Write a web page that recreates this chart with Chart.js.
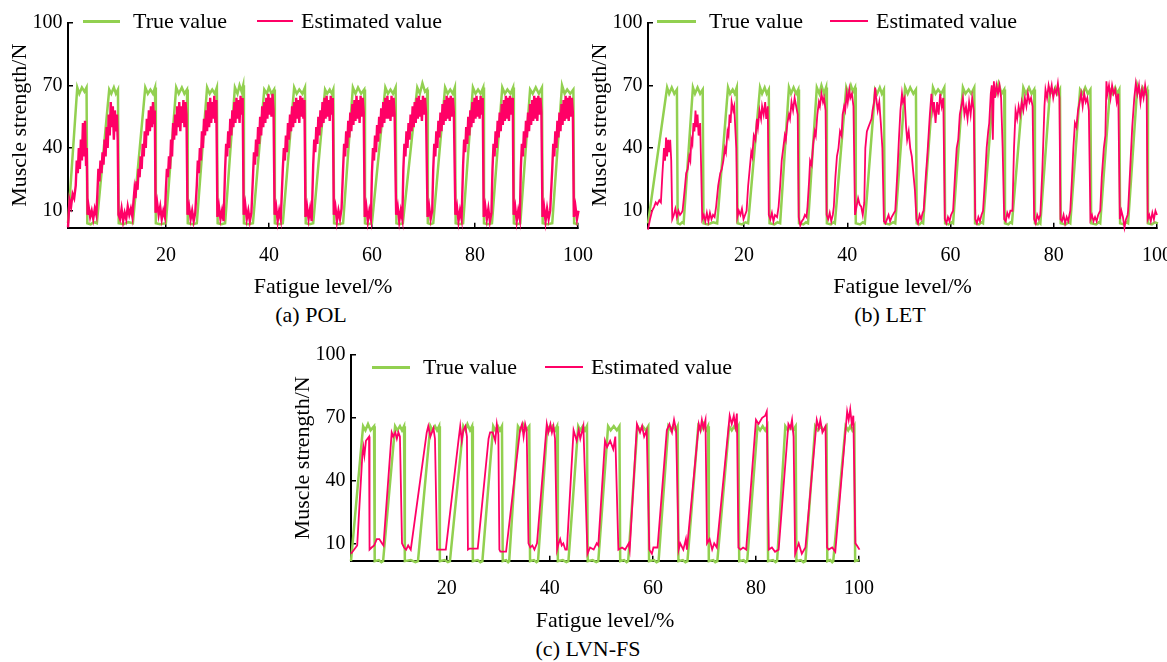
<!DOCTYPE html>
<html>
<head>
<meta charset="utf-8">
<script src="https://cdn.jsdelivr.net/npm/chart.js@4.4.1/dist/chart.umd.min.js"></script>
<style>
  html, body { margin: 0; padding: 0; background: #fff; overflow: hidden; }
  body { width: 1167px; height: 662px; position: relative; font-family: "Liberation Serif", "Tinos", "Nimbus Roman", "FreeSerif", "DejaVu Serif", serif; color: #000; }
  canvas { position: absolute; }
  .txt { position: absolute; font-size: 22px; line-height: 22px; white-space: nowrap; }
  .cap { position: absolute; font-size: 22px; line-height: 22px; white-space: nowrap; transform: translateX(-50%); }
  .ln { position: absolute; }
  #probe { position: absolute; left: 0; top: 640px; font-size: 10px; color: #fff; }
</style>
</head>
<body>
<canvas id="c_pol" width="600" height="300" style="left:0px;top:0px"></canvas>
<canvas id="c_let" width="600" height="300" style="left:580px;top:0px"></canvas>
<canvas id="c_lvn" width="600" height="299" style="left:283px;top:335px"></canvas>

<!-- legends -->
<div class="ln" style="left:83px;top:20px;width:37px;height:2.5px;background:#92d050"></div>
<div class="txt" style="left:133px;top:10px">True value</div>
<div class="ln" style="left:257px;top:20px;width:36px;height:2px;background:#ff0066"></div>
<div class="txt" style="left:301px;top:10px">Estimated value</div>

<div class="ln" style="left:657px;top:20px;width:39px;height:2.5px;background:#92d050"></div>
<div class="txt" style="left:709px;top:10px">True value</div>
<div class="ln" style="left:830px;top:20px;width:38px;height:2px;background:#ff0066"></div>
<div class="txt" style="left:876px;top:10px">Estimated value</div>

<div class="ln" style="left:372px;top:366px;width:38px;height:2.5px;background:#92d050"></div>
<div class="txt" style="left:423px;top:356px">True value</div>
<div class="ln" style="left:545px;top:366px;width:38px;height:2px;background:#ff0066"></div>
<div class="txt" style="left:591px;top:356px">Estimated value</div>

<!-- captions -->
<div class="cap" style="left:311px;top:304px">(a) POL</div>
<div class="cap" style="left:890px;top:304px">(b) LET</div>
<div class="cap" style="left:588px;top:638px">(c) LVN-FS</div>

<script>
const green = '#92d050';
const red = '#ff0066';

const xTicks = [20, 40, 60, 80, 100];
const yTicks = [10, 40, 70, 100];

// (a) POL
const polTrue = [
  [1.0,4],[2.8,69],[3.2,66],[3.7,69],[4.2,67],[4.6,69],[4.75,4],[5.4,3.5],[6.0,4.5],
  [6.6,4],[9.0,68],[9.4,66],[9.9,69],[10.3,66],[10.7,68],[10.85,4],[11.8,3.5],[12.7,4.5],
  [13.6,4],[16.0,69],[16.5,66],[17.0,68],[17.5,66],[17.9,69],[18.05,4],[18.9,3.5],
  [20.0,4],[22.0,69],[22.5,66],[23.1,69],[23.6,66],[24.1,68],[24.25,4],[25.2,3.5],
  [26.0,4],[28.0,69],[28.5,66],[29.0,68],[29.5,66],[29.9,69],[30.05,4],[30.8,3.5],
  [31.5,4],[33.4,69],[33.9,66],[34.3,70],[34.7,67],[35.0,70],[35.15,4],[36.0,3.5],
  [36.9,4],[39.1,68],[39.6,66],[40.0,69],[40.5,66],[41.0,68],[41.15,4],[42.0,3.5],
  [42.7,4],[44.9,69],[45.4,66],[45.9,68],[46.5,66],[47.0,69],[47.15,4],[47.9,3.5],
  [48.6,4],[50.9,68],[51.3,66],[51.8,68],[52.2,66],[52.5,68],[52.65,4],[53.5,3.5],
  [54.4,4],[56.3,69],[56.8,66],[57.3,69],[57.9,66],[58.5,68],[58.65,4],[59.3,3.5],
  [60.0,4],[62.6,69],[63.1,66],[63.6,68],[64.1,66],[64.6,69],[64.75,4],[65.4,3.5],
  [66.0,4],[68.8,69],[69.3,66],[69.8,71],[70.3,67],[70.7,68],[70.85,4],[71.4,3.5],
  [71.9,4],[74.2,69],[74.7,66],[75.2,68],[75.7,66],[76.1,69],[76.25,4],[77.0,3.5],
  [77.7,4],[79.6,69],[80.1,66],[80.6,68],[81.1,66],[81.6,69],[81.75,4],[82.5,3.5],
  [83.3,4],[85.3,69],[85.8,66],[86.3,68],[86.9,66],[87.4,69],[87.55,4],[88.2,3.5],
  [88.8,4],[90.7,68],[91.2,66],[91.8,69],[92.4,66],[93.0,69],[93.15,4],[94.1,3.5],
  [95.0,4],[96.9,70],[97.4,66],[97.9,68],[98.5,66],[99.1,68],[99.25,4],[100.0,3.5],[100.6,4]
];
const polEst = [
  [1.0,2],[1.3,15],[1.6,12],[1.9,18],[2.2,16],[2.5,22],[2.7,34],[2.9,28],[3.1,40],[3.3,30],[3.5,44],[3.7,34],[3.9,52],[4.1,36],[4.3,53],[4.5,32],[4.65,40],[4.8,8],
  [5.0,12],[5.3,7],[5.6,10],[5.9,6],[6.2,11],[6.5,8],
  [6.7,18],[6.9,30],[7.1,24],[7.3,34],[7.5,28],[7.7,38],[7.9,32],[8.1,44],[8.3,36],[8.5,50],[8.7,40],[8.9,56],[9.1,46],[9.3,62],[9.5,50],[9.7,60],[9.9,44],[10.1,58],[10.3,48],[10.5,56],[10.65,44],[10.8,8],
  [11.1,6],[11.4,11],[11.7,5],[12.0,9],[12.3,6],[12.6,12],[12.9,8],[13.2,11],[13.5,7],
  [13.7,14],[13.9,20],[14.1,16],[14.3,24],[14.5,20],[14.7,30],[14.9,26],[15.1,36],[15.3,30],[15.5,42],[15.7,36],[15.9,48],[16.1,40],[16.3,54],[16.5,46],[16.7,58],[16.9,48],[17.1,60],[17.3,50],[17.5,62],[17.7,52],[17.85,58],[18.0,9],
  [18.3,14],[18.6,8],[18.9,12],[19.2,6],[19.5,10],[19.8,7],
  [20.0,20],[20.2,30],[20.4,26],[20.6,36],[20.8,30],[21.0,44],[21.2,36],[21.4,52],[21.6,44],[21.8,56],[22.0,46],[22.2,60],[22.4,50],[22.6,62],[22.8,48],[23.0,60],[23.2,52],[23.4,63],[23.6,50],[23.8,62],[24.0,56],[24.2,8],
  [24.5,12],[24.8,6],[25.1,10],[25.4,5],[25.7,9],
  [26.0,22],[26.2,34],[26.4,28],[26.6,40],[26.8,34],[27.0,48],[27.2,40],[27.4,54],[27.6,46],[27.8,58],[28.0,48],[28.2,62],[28.4,50],[28.6,64],[28.8,52],[29.0,62],[29.2,54],[29.4,65],[29.6,52],[29.8,63],[30.0,7],
  [30.3,12],[30.6,6],[30.9,10],[31.2,5],
  [31.5,30],[31.7,42],[31.9,36],[32.1,48],[32.3,40],[32.5,54],[32.7,46],[32.9,58],[33.1,50],[33.3,62],[33.5,52],[33.7,64],[33.9,54],[34.1,63],[34.3,52],[34.5,65],[34.7,56],[34.9,64],[35.1,8],
  [35.4,13],[35.7,6],[36.0,10],[36.3,5],[36.6,9],
  [36.9,26],[37.1,38],[37.3,32],[37.5,44],[37.7,36],[37.9,50],[38.1,42],[38.3,55],[38.5,46],[38.7,60],[38.9,50],[39.1,62],[39.3,52],[39.5,64],[39.7,54],[39.9,66],[40.1,56],[40.3,64],[40.5,55],[40.7,66],[40.9,58],[41.1,8],
  [41.4,12],[41.7,5],[42.0,10],[42.3,6],
  [42.7,30],[42.9,40],[43.1,34],[43.3,46],[43.5,38],[43.7,52],[43.9,44],[44.1,56],[44.3,48],[44.5,60],[44.7,50],[44.9,62],[45.1,52],[45.3,64],[45.5,54],[45.7,63],[45.9,52],[46.1,65],[46.3,55],[46.5,64],[46.7,54],[46.9,63],[47.1,7],
  [47.4,12],[47.7,6],[48.0,11],[48.3,5],
  [48.6,32],[48.8,44],[49.0,38],[49.2,50],[49.4,42],[49.6,55],[49.8,46],[50.0,58],[50.2,50],[50.4,62],[50.6,52],[50.8,64],[51.0,54],[51.2,65],[51.4,55],[51.6,63],[51.8,53],[52.0,65],[52.2,56],[52.4,64],[52.6,8],
  [52.9,12],[53.2,5],[53.5,10],[53.8,6],[54.1,11],
  [54.4,30],[54.6,42],[54.8,36],[55.0,48],[55.2,40],[55.4,53],[55.6,45],[55.8,57],[56.0,48],[56.2,61],[56.4,51],[56.6,63],[56.8,53],[57.0,65],[57.2,54],[57.4,63],[57.6,52],[57.8,65],[58.0,55],[58.2,64],[58.4,57],[58.6,7],
  [58.9,12],[59.2,5],[59.5,10],[59.8,6],
  [60.0,28],[60.2,40],[60.4,34],[60.6,46],[60.8,38],[61.0,51],[61.2,43],[61.4,55],[61.6,47],[61.8,59],[62.0,50],[62.2,62],[62.4,52],[62.6,64],[62.8,54],[63.0,65],[63.2,54],[63.4,63],[63.6,53],[63.8,65],[64.0,55],[64.2,64],[64.4,56],[64.7,8],
  [65.0,12],[65.3,5],[65.6,10],[65.9,6],
  [66.1,30],[66.3,42],[66.5,36],[66.7,48],[66.9,40],[67.1,52],[67.3,44],[67.5,56],[67.7,48],[67.9,60],[68.1,50],[68.3,62],[68.5,52],[68.7,64],[68.9,54],[69.1,65],[69.3,55],[69.5,63],[69.7,53],[69.9,65],[70.1,56],[70.3,64],[70.5,57],[70.8,7],
  [71.1,12],[71.4,6],[71.7,10],
  [71.9,30],[72.1,42],[72.3,36],[72.5,48],[72.7,40],[72.9,53],[73.1,45],[73.3,57],[73.5,48],[73.7,61],[73.9,51],[74.1,63],[74.3,53],[74.5,65],[74.7,54],[74.9,64],[75.1,53],[75.3,65],[75.5,55],[75.7,64],[75.9,57],[76.2,8],
  [76.5,12],[76.8,5],[77.1,10],[77.4,6],
  [77.7,32],[77.9,44],[78.1,38],[78.3,50],[78.5,42],[78.7,55],[78.9,46],[79.1,58],[79.3,50],[79.5,62],[79.7,52],[79.9,64],[80.1,54],[80.3,65],[80.5,55],[80.7,63],[80.9,54],[81.1,65],[81.3,56],[81.5,64],[81.7,7],
  [82.0,12],[82.3,6],[82.6,11],[82.9,5],[83.2,9],
  [83.4,30],[83.6,42],[83.8,36],[84.0,48],[84.2,40],[84.4,53],[84.6,45],[84.8,57],[85.0,48],[85.2,61],[85.4,51],[85.6,63],[85.8,53],[86.0,65],[86.2,54],[86.4,64],[86.6,53],[86.8,65],[87.0,56],[87.2,64],[87.35,58],[87.5,8],
  [87.8,12],[88.1,5],[88.4,10],[88.7,6],
  [88.9,30],[89.1,42],[89.3,36],[89.5,48],[89.7,40],[89.9,53],[90.1,45],[90.3,57],[90.5,48],[90.7,61],[90.9,51],[91.1,63],[91.3,53],[91.5,65],[91.7,54],[91.9,64],[92.1,53],[92.3,65],[92.5,56],[92.7,64],[92.9,57],[93.1,7],
  [93.4,12],[93.7,5],[94.0,11],[94.3,6],[94.6,10],
  [95.0,30],[95.2,42],[95.4,36],[95.6,48],[95.8,40],[96.0,53],[96.2,45],[96.4,57],[96.6,48],[96.8,61],[97.0,51],[97.2,63],[97.4,53],[97.6,65],[97.8,54],[98.0,64],[98.2,53],[98.4,65],[98.6,55],[98.8,64],[99.0,57],[99.2,7],
  [99.5,12],[99.8,6],[100.1,10],[100.4,5],[100.6,8]
];

// (b) LET
const letTrue = [
  [1.4,4],[5.1,69],[5.5,66],[6.0,69],[6.5,66],[7.0,68],[7.15,4],[7.6,3.5],[8.0,4.5],
  [8.3,4],[10.1,69],[10.5,66],[11.0,69],[11.5,66],[12.0,68],[12.15,4],[13.0,3.5],[14.0,4.5],
  [14.8,4],[16.9,69],[17.3,66],[17.8,68],[18.2,66],[18.6,69],[18.75,4],[19.6,3.5],[20.3,4.5],
  [20.8,4],[23.1,69],[23.5,66],[24.0,69],[24.4,66],[24.8,68],[24.95,4],[25.9,3.5],[26.5,4.5],
  [27.0,4],[28.7,69],[29.1,66],[29.6,69],[30.1,66],[30.5,68],[30.65,4],[31.5,3.5],[32.0,4.5],
  [32.4,4],[34.1,69],[34.6,66],[35.0,70],[35.5,66],[35.9,69],[36.05,4],[36.8,3.5],[37.3,4.5],
  [37.6,4],[39.8,69],[40.2,66],[40.7,70],[41.1,67],[41.5,69],[41.65,4],[42.5,3.5],[43.0,4.5],
  [43.4,4],[45.4,68],[45.8,66],[46.3,69],[46.7,66],[47.1,68],[47.25,4],[48.2,3.5],[48.9,4.5],
  [49.3,4],[51.2,69],[51.7,66],[52.2,69],[52.8,66],[53.3,68],[53.45,4],[54.0,3.5],[54.4,4.5],
  [54.7,4],[56.6,69],[57.1,66],[57.6,68],[58.2,66],[58.8,69],[58.95,4],[59.6,3.5],[60.2,4.5],
  [60.5,4],[62.4,69],[62.9,66],[63.5,68],[64.0,66],[64.6,69],[64.75,4],[65.5,3.5],[66.0,4.5],
  [66.3,4],[68.3,68],[68.8,66],[69.3,71],[69.9,66],[70.4,68],[70.55,4],[71.2,3.5],[71.6,4.5],
  [71.9,4],[74.1,69],[74.6,66],[75.2,69],[75.7,66],[76.2,68],[76.35,4],[76.9,3.5],[77.2,4.5],
  [77.4,4],[79.3,68],[79.8,66],[80.3,69],[80.8,66],[81.2,68],[81.35,4],[82.3,3.5],[82.9,4.5],
  [83.2,4],[85.1,68],[85.6,66],[86.1,69],[86.6,66],[87.1,68],[87.25,4],[88.2,3.5],[88.7,4.5],
  [89.0,4],[90.9,68],[91.4,66],[91.9,69],[92.3,66],[92.7,68],[92.85,4],[93.6,3.5],[94.1,4.5],
  [94.4,4],[96.2,70],[96.7,66],[97.2,69],[97.7,66],[98.1,68],[98.25,4],[99.0,3.5],[99.6,4.5],[100.2,4]
];
const letEst = [
  [1.4,1],[1.8,6],[2.2,10],[2.6,12],[2.9,14],[3.2,13],[3.6,15],[3.9,14],[4.2,28],[4.5,40],[4.7,34],[4.9,45],[5.1,36],[5.3,44],[5.5,38],[5.7,44],[5.9,34],[6.1,6],
  [6.4,8],[6.7,11],[7.0,7],[7.3,10],[7.6,8],[7.9,9],
  [8.1,10],[8.5,20],[8.8,28],[9.1,30],[9.4,36],[9.6,34],[9.8,44],[10.0,42],[10.2,52],[10.4,48],[10.6,58],[10.8,50],[11.0,56],[11.2,46],[11.5,52],[11.7,30],[11.9,6],
  [12.2,8],[12.5,5],[12.8,9],[13.1,5],[13.4,9],[13.7,6],[14.0,8],[14.3,7],
  [14.6,12],[15.0,22],[15.4,28],[15.7,30],[16.0,34],[16.3,40],[16.5,38],[16.8,48],[17.0,46],[17.2,56],[17.4,52],[17.6,62],[17.9,58],[18.1,60],[18.3,50],[18.5,40],[18.7,7],
  [19.0,10],[19.3,8],[19.6,11],[19.9,6],[20.2,8],
  [20.5,10],[20.8,22],[21.1,30],[21.4,38],[21.6,36],[21.9,46],[22.2,44],[22.5,54],[22.7,50],[23.0,58],[23.3,54],[23.5,60],[23.8,56],[24.1,62],[24.3,54],[24.6,60],[24.8,8],
  [25.1,6],[25.4,9],[25.7,5],[26.0,8],[26.4,7],
  [26.7,12],[27.0,22],[27.3,34],[27.6,40],[27.9,46],[28.1,44],[28.4,52],[28.7,56],[28.9,54],[29.2,62],[29.5,58],[29.8,64],[30.1,60],[30.4,56],[30.6,7],
  [30.9,3],[31.2,5],[31.5,6],[31.8,8],[32.1,7],
  [32.3,12],[32.6,24],[32.8,34],[33.1,32],[33.4,42],[33.7,48],[33.9,46],[34.2,56],[34.5,62],[34.7,60],[35.0,66],[35.3,62],[35.5,64],[35.8,58],[36.0,8],
  [36.3,6],[36.6,9],[36.9,5],[37.2,8],
  [37.4,12],[37.7,26],[38.0,36],[38.3,40],[38.6,48],[38.9,46],[39.1,56],[39.4,60],[39.6,58],[39.9,66],[40.1,62],[40.4,68],[40.6,64],[40.9,66],[41.2,60],[41.5,8],
  [41.8,12],[42.1,16],[42.4,13],[42.7,12],[43.0,8],
  [43.3,14],[43.5,40],[43.8,48],[44.1,50],[44.4,52],[44.7,54],[44.9,58],[45.2,62],[45.4,69],[45.6,64],[45.9,58],[46.2,62],[46.5,52],[46.8,40],[47.1,5],
  [47.4,4],[47.7,6],[48.0,8],[48.3,5],[48.6,7],
  [49.3,10],[49.7,28],[50.0,44],[50.3,58],[50.6,66],[50.8,62],[51.1,64],[51.4,50],[51.6,44],[51.9,48],[52.2,40],[52.5,36],[52.8,28],[53.1,20],[53.4,6],
  [53.7,4],[54.0,8],[54.3,6],[54.6,9],
  [54.8,10],[55.2,26],[55.5,36],[55.8,48],[56.0,56],[56.3,66],[56.6,58],[56.8,62],[57.1,52],[57.4,62],[57.7,56],[58.0,66],[58.3,60],[58.6,64],[58.9,6],
  [59.2,4],[59.5,7],[59.8,5],[60.1,8],
  [60.5,10],[60.9,28],[61.2,40],[61.5,44],[61.8,56],[62.1,60],[62.4,64],[62.7,56],[63.0,60],[63.3,54],[63.6,62],[63.9,56],[64.2,64],[64.5,58],[64.8,6],
  [65.1,4],[65.4,7],[65.7,5],[66.0,8],
  [66.3,10],[66.7,26],[67.0,40],[67.3,48],[67.5,52],[67.8,66],[68.0,70],[68.2,44],[68.4,72],[68.6,64],[68.9,70],[69.2,66],[69.5,70],[69.8,64],[70.1,40],[70.4,6],
  [70.7,5],[71.0,9],[71.3,7],[71.6,10],
  [72.0,10],[72.3,40],[72.6,58],[72.9,54],[73.2,60],[73.5,56],[73.8,62],[74.1,58],[74.4,64],[74.7,60],[75.0,66],[75.3,62],[75.6,64],[75.9,60],[76.2,6],
  [76.5,4],[76.8,8],[77.1,6],
  [77.4,8],[77.8,30],[78.2,60],[78.4,68],[78.7,64],[79.0,70],[79.3,66],[79.6,70],[79.9,64],[80.2,68],[80.5,66],[80.8,71],[81.1,64],[81.3,6],
  [81.6,5],[81.9,8],[82.2,4],[82.5,7],[82.8,5],
  [83.2,10],[83.5,24],[83.8,40],[84.1,52],[84.4,50],[84.7,58],[85.0,62],[85.3,66],[85.6,60],[85.9,66],[86.2,62],[86.5,64],[86.8,58],[87.1,6],
  [87.4,8],[87.7,5],[88.0,7],[88.3,5],[88.6,8],
  [89.0,10],[89.3,26],[89.7,40],[90.0,46],[90.2,72],[90.4,66],[90.7,70],[91.0,64],[91.3,70],[91.6,66],[91.9,68],[92.2,62],[92.5,66],[92.8,6],
  [93.1,10],[93.4,7],[93.7,2],[94.0,6],[94.3,8],
  [94.4,10],[94.8,30],[95.2,50],[95.6,64],[95.9,71],[96.2,66],[96.5,70],[96.8,62],[97.1,68],[97.4,64],[97.7,70],[98.0,65],[98.2,6],
  [98.5,8],[98.8,5],[99.1,9],[99.4,6],[99.7,10],[100.0,8],[100.3,6]
];

// (c) LVN-FS
const lvnTrue = [
  [1.4,1.5],[3.75,66],[4.2,64],[4.7,67],[5.2,64],[5.88,66],[6.0,1.5],[6.8,2],[7.3,1],
  [7.63,1.5],[9.96,66],[10.4,64],[10.9,66],[11.3,64],[11.7,66],[11.85,1.5],[13.0,2],[13.9,1],
  [14.4,1.5],[16.8,66],[17.2,64],[17.7,66],[18.1,64],[18.5,66],[18.65,1.5],[19.6,2],[20.2,1],
  [20.6,1.5],[23.2,66],[23.6,64],[24.0,67],[24.5,64],[24.9,66],[25.05,1.5],[26.0,2],[26.5,1],
  [26.9,1.5],[29.0,66],[29.4,64],[29.9,66],[30.3,64],[30.7,66],[30.85,1.5],[31.5,2],[31.9,1],
  [32.1,1.5],[33.8,66],[34.3,64],[34.8,67],[35.4,64],[36.0,66],[36.15,1.5],[36.9,2],[37.4,1],
  [37.7,1.5],[39.5,66],[40.0,64],[40.5,66],[41.0,64],[41.4,66],[41.55,1.5],[42.5,2],[43.2,1],
  [43.6,1.5],[45.5,66],[45.9,64],[46.4,66],[46.8,64],[47.2,66],[47.35,1.5],[48.3,2],[49.0,1],
  [49.4,1.5],[51.3,66],[51.8,64],[52.4,66],[53.0,64],[53.5,66],[53.65,1.5],[54.4,2],[54.9,1],
  [55.2,1.5],[57.0,66],[57.5,64],[58.0,66],[58.6,64],[59.1,66],[59.25,1.5],[60.2,2],[60.7,1],
  [61.1,1.5],[63.0,66],[63.5,64],[63.9,66],[64.4,64],[64.8,66],[64.95,1.5],[65.8,2],[66.3,1],
  [66.7,1.5],[68.8,66],[69.3,64],[69.8,67],[70.3,64],[70.7,66],[70.85,1.5],[71.7,2],[72.1,1],
  [72.5,1.5],[74.8,66],[75.3,64],[75.8,66],[76.2,64],[76.6,66],[76.75,1.5],[77.6,2],[78.0,1],
  [78.3,1.5],[80.3,66],[80.8,64],[81.3,66],[81.8,64],[82.2,66],[82.35,1.5],[83.3,2],[83.8,1],
  [84.1,1.5],[85.7,66],[86.2,64],[86.7,66],[87.2,64],[87.7,66],[87.85,1.5],[88.7,2],[89.2,1],
  [89.6,1.5],[91.5,66],[92.0,64],[92.6,66],[93.1,64],[93.7,66],[93.85,1.5],[94.4,2],[94.8,1],
  [95.0,1.5],[97.4,66],[97.9,64],[98.3,66],[98.7,64],[99.1,66],[99.25,1.5],[100.0,2],[100.6,1.5]
];
const lvnEst = [
  [1.4,5],[2.6,9],[3.6,52],[3.8,56],[4.0,52],[4.3,59],[4.6,60],[4.9,61],[5.0,7],
  [5.4,8],[5.9,9],[6.4,12],[6.9,12],[7.4,10],[7.7,9],
  [9.3,63],[9.6,61],[10.0,63],[10.3,60],[10.6,63],[10.9,61],[11.3,10],
  [11.7,8],[12.1,7],[12.5,9],[13.0,7],
  [16.1,63],[16.4,66],[16.8,61],[17.1,63],[17.4,65],[17.7,60],[18.1,7],
  [18.4,7],[19.8,7],
  [22.25,59],[22.6,66],[22.9,59],[23.2,64],[23.6,66],[23.9,61],[24.1,7],
  [24.4,7.5],[26.0,7.5],
  [28.1,60],[28.4,63],[28.9,63],[29.4,59],[29.7,67],[30.0,62],[30.2,7],
  [30.4,6],[31.5,6],
  [34.2,64],[34.6,67],[34.9,61],[35.2,67],[35.5,64],[35.85,10],
  [36.2,8],[36.6,9],[37.0,7],[37.5,10],
  [39.4,67],[39.7,63],[40.1,67],[40.4,63],[40.7,66],[41.0,60],[41.4,7],
  [41.7,10],[42.0,12],[42.3,9],[42.6,10],[43.0,7],[43.3,7],
  [44.6,64],[45.2,59],[45.6,64],[45.9,60],[46.5,66],[47.3,5],
  [47.8,8],[48.5,7],[49.1,10],[49.4,9],
  [50.7,59],[51.1,56],[51.7,59],[52.3,55],[52.7,61],[53.3,7],
  [54.0,8],[54.6,7],[55.3,10],[55.5,7],
  [56.9,67],[57.5,63],[57.9,66],[58.3,61],[58.8,64],[59.3,7],
  [59.8,5],[60.1,8],[60.9,8],
  [62.7,64],[63.2,67],[63.7,63],[64.1,69],[64.5,64],[65.0,7],
  [65.3,10],[65.9,7],[66.4,12],[66.6,7],
  [68.9,67],[69.2,64],[69.5,69],[69.8,65],[70.2,69],[70.5,10],
  [71.0,12],[71.5,7],[71.9,10],[72.4,8],
  [74.9,71],[75.3,67],[75.7,71],[76.0,66],[76.3,72],[76.6,8],
  [77.0,7],[77.5,8],[78.1,7],
  [80.0,69],[80.5,67],[81.2,70],[81.8,71],[82.1,73],[82.5,7],
  [83.1,8],[83.7,6],[84.4,7],
  [86.3,67],[86.7,65],[87.0,69],[87.3,61],[87.6,5],
  [88.3,10],[88.9,5],[89.6,8],
  [91.8,69],[92.2,65],[92.5,69],[92.9,63],[93.5,66],[93.8,8],
  [94.1,7],[94.8,8],[95.4,6],
  [97.7,73],[98.0,69],[98.3,74],[98.6,67],[98.9,71],[99.3,10],
  [99.6,9],[100.1,7]
];

const serif = "'Liberation Serif', Tinos, 'Nimbus Roman', FreeSerif, 'DejaVu Serif', serif";

function makeChart(id, trueData, estData, xMin, yMin, padTop, padRight, xAxisH, estWidth) {
  return new Chart(document.getElementById(id), {
    type: 'line',
    data: {
      datasets: [
        {
          label: 'Estimated value',
          data: estData.map(p => ({ x: p[0], y: p[1] })),
          borderColor: red,
          borderWidth: estWidth,
          pointRadius: 0,
          tension: 0,
          clip: false,
          order: 0
        },
        {
          label: 'True value',
          data: trueData.map(p => ({ x: p[0], y: p[1] })),
          borderColor: green,
          borderWidth: 2.5,
          pointRadius: 0,
          tension: 0,
          clip: false,
          order: 1
        }
      ]
    },
    options: {
      responsive: false,
      animation: false,
      devicePixelRatio: 1,
      layout: { padding: { top: padTop, right: padRight, left: 0, bottom: 0 } },
      plugins: { legend: { display: false }, tooltip: { enabled: false } },
      scales: {
        x: {
          type: 'linear',
          min: xMin,
          max: 100,
          afterBuildTicks: s => { s.ticks = xTicks.map(v => ({ value: v })); },
          afterFit: s => { s.height = xAxisH; s.paddingLeft = 0; s.paddingRight = 0; },
          ticks: { font: { family: serif, size: 20 }, color: '#000', padding: 21, autoSkip: false, maxRotation: 0 },
          grid: { drawOnChartArea: false, tickLength: -5, color: '#000', lineWidth: 1.5 },
          border: { color: '#000', width: 2 },
          title: { display: true, text: 'Fatigue level/%', font: { family: serif, size: 22 }, color: '#000', padding: 0 }
        },
        y: {
          type: 'linear',
          min: yMin,
          max: 100,
          afterBuildTicks: s => { s.ticks = yTicks.map(v => ({ value: v })); },
          afterFit: s => { s.width = 68; s.paddingTop = 0; s.paddingBottom = 0; },
          ticks: { font: { family: serif, size: 20 }, color: '#000', padding: 10.5 },
          grid: { drawOnChartArea: false, tickLength: -5, color: '#000', lineWidth: 1.5 },
          border: { color: '#000', width: 2 },
          title: { display: true, text: 'Muscle strength/N', font: { family: serif, size: 22 }, color: '#000', padding: { top: 7, bottom: 0 } }
        }
      }
    }
  });
}

makeChart('c_pol', polTrue, polEst, 1.0, 1.85, 22.7, 22, 72.3, 2.4);
makeChart('c_let', letTrue, letEst, 1.4, 1.9, 22.7, 23, 72.3, 1.8);
makeChart('c_lvn', lvnTrue, lvnEst, 1.4, 1.7, 20, 24, 73.3, 1.8);
</script>
</body>
</html>
